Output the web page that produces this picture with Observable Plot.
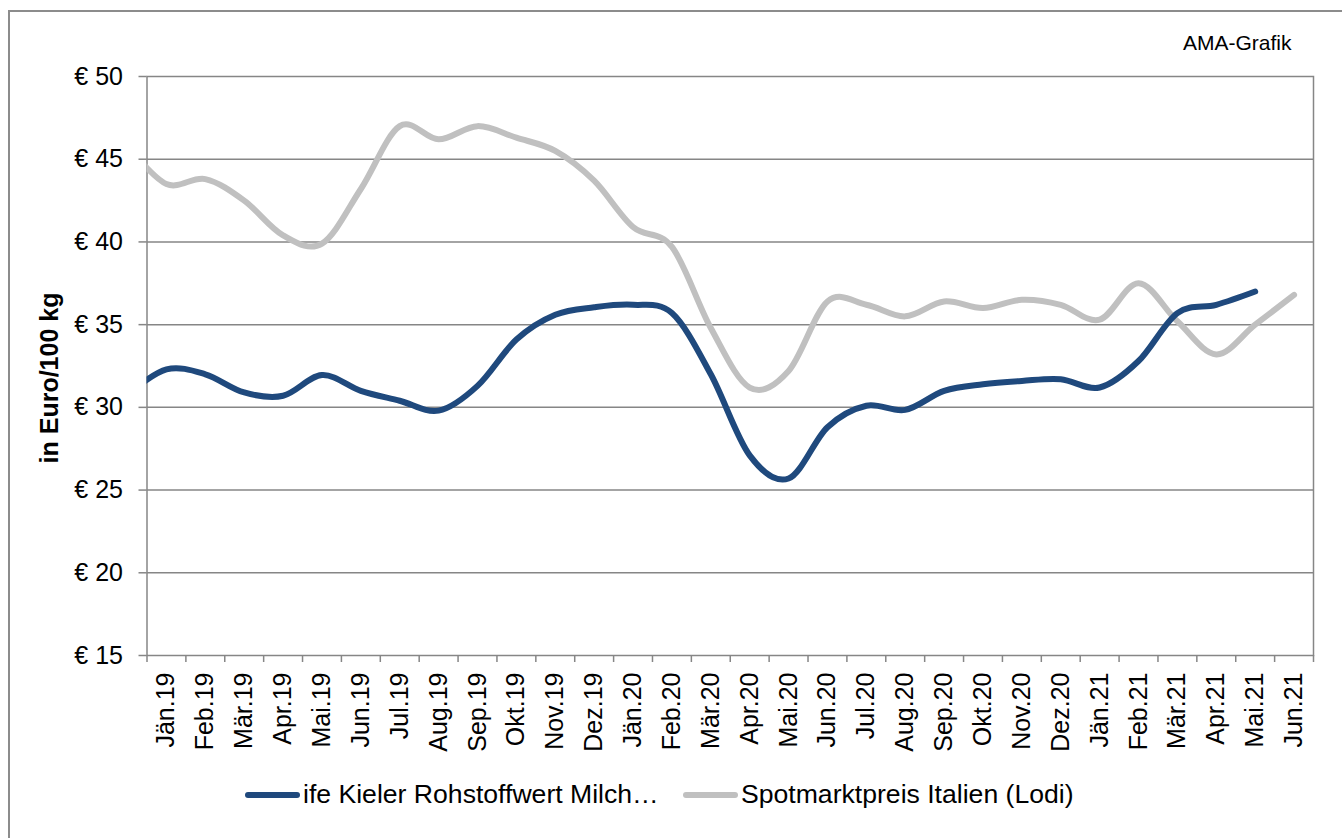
<!DOCTYPE html>
<html>
<head>
<meta charset="utf-8">
<script src="https://cdn.jsdelivr.net/npm/d3@7"></script>
<script src="https://cdn.jsdelivr.net/npm/@observablehq/plot@0.6"></script>
<style>
  html, body { margin: 0; padding: 0; background: #fff; overflow: hidden; width: 1342px; height: 838px; }
  body { font-family: "Liberation Sans", Arial, sans-serif; }
  #wrap { position: relative; width: 1342px; height: 838px; }
  #border { position: absolute; left: 8px; top: 10px; width: 1400px; height: 900px; border: 2px solid #8c8c8c; box-sizing: border-box; pointer-events: none; }
  #chart { position: absolute; left: 0; top: 0; }
  #credit { position: absolute; left: 1183px; top: 31px; font-size: 21px; color: #000; }
  .leg { position: absolute; top: 779px; font-size: 26.6px; color: #000; white-space: nowrap; display: flex; align-items: center; }
  .sw { display: inline-block; width: 55px; height: 6px; border-radius: 3px; margin-right: 3px; }
</style>
</head>
<body>
<div id="wrap">
  <div id="chart"></div>
  <div id="credit">AMA-Grafik</div>
  <div class="leg" style="left:245px"><span class="sw" style="background:#1f497d"></span>ife Kieler Rohstoffwert Milch…</div>
  <div class="leg" style="left:683px"><span class="sw" style="background:#c0c0c0"></span>Spotmarktpreis Italien (Lodi)</div>
  <div id="border"></div>
</div>
<script>
const months = ["Jän.19","Feb.19","Mär.19","Apr.19","Mai.19","Jun.19","Jul.19","Aug.19","Sep.19","Okt.19","Nov.19","Dez.19",
  "Jän.20","Feb.20","Mär.20","Apr.20","Mai.20","Jun.20","Jul.20","Aug.20","Sep.20","Okt.20","Nov.20","Dez.20",
  "Jän.21","Feb.21","Mär.21","Apr.21","Mai.21","Jun.21"];

// ife Kieler Rohstoffwert Milch (blue) – ends Mai.21
const kieler = [32.3,32.0,30.9,30.7,31.95,31.0,30.4,29.8,31.3,34.1,35.6,36.05,
  36.2,35.7,32.0,27.1,25.7,28.8,30.1,29.85,31.0,31.4,31.6,31.7,
  31.2,32.8,35.7,36.2,37.0];
// Spotmarktpreis Italien (Lodi) (grey)
const lodi = [43.5,43.8,42.5,40.4,39.9,43.2,47.0,46.2,47.0,46.3,45.5,43.7,
  40.9,39.7,34.8,31.2,32.2,36.4,36.2,35.5,36.4,36.0,36.5,36.2,
  35.3,37.5,35.2,33.2,35.0,36.8];
// preceding month (Dez.18), only partly visible at the left edge
const priorMonth = "Dez.18";
const kielerPrior = 30.8;
const lodiPrior = 45.8;

const yTicks = [15,20,25,30,35,40,45,50];
const yLabel = "in Euro/100 kg";

const kData = [{i: -1, m: priorMonth, v: kielerPrior}, ...kieler.map((v, i) => ({i, m: months[i], v}))];
const lData = [{i: -1, m: priorMonth, v: lodiPrior}, ...lodi.map((v, i) => ({i, m: months[i], v}))];
const centers = months.map((m, i) => i);
const edges = d3.range(months.length + 1).map(i => i - 0.5);

const font = "Liberation Sans, Arial, sans-serif";
const plot = Plot.plot({
  width: 1342,
  height: 770,
  marginLeft: 146.5,
  marginRight: 29,
  marginTop: 76,
  marginBottom: 115,
  style: {fontFamily: font, background: "transparent", color: "#000", overflow: "visible"},
  x: {type: "linear", domain: [-0.5, 29.5]},
  y: {domain: [15, 50]},
  marks: [
    Plot.ruleY(yTicks.slice(1, -1), {stroke: "#868686", strokeWidth: 1.5}),
    Plot.frame({stroke: "#868686", strokeWidth: 1.5}),
    Plot.axisY(yTicks, {tickSize: 8, tickPadding: 16, fontSize: 25, stroke: "#868686", strokeWidth: 1.5, tickFormat: d => "€ " + d, label: null, fill: "#000"}),
    Plot.axisX(edges, {tickSize: 7, stroke: "#868686", strokeWidth: 1.5, tickFormat: () => "", label: null}),
    Plot.text(centers, {x: d => d, text: d => months[d], frameAnchor: "bottom", rotate: -90, textAnchor: "end", lineAnchor: "middle", dy: 17, fontSize: 25, fill: "#000"}),
    Plot.text([yLabel], {frameAnchor: "left", rotate: -90, dx: -97, dy: 12, fontSize: 25, fontWeight: "bold", fill: "#000", textAnchor: "middle", lineAnchor: "middle"}),
    Plot.line(lData, {x: "i", y: "v", stroke: "#c0c0c0", strokeWidth: 6, curve: "cardinal", clip: true, strokeLinecap: "round"}),
    Plot.line(kData, {x: "i", y: "v", stroke: "#1f497d", strokeWidth: 6, curve: "cardinal", clip: true, strokeLinecap: "round"})
  ]
});
document.getElementById("chart").appendChild(plot);
</script>
</body>
</html>
